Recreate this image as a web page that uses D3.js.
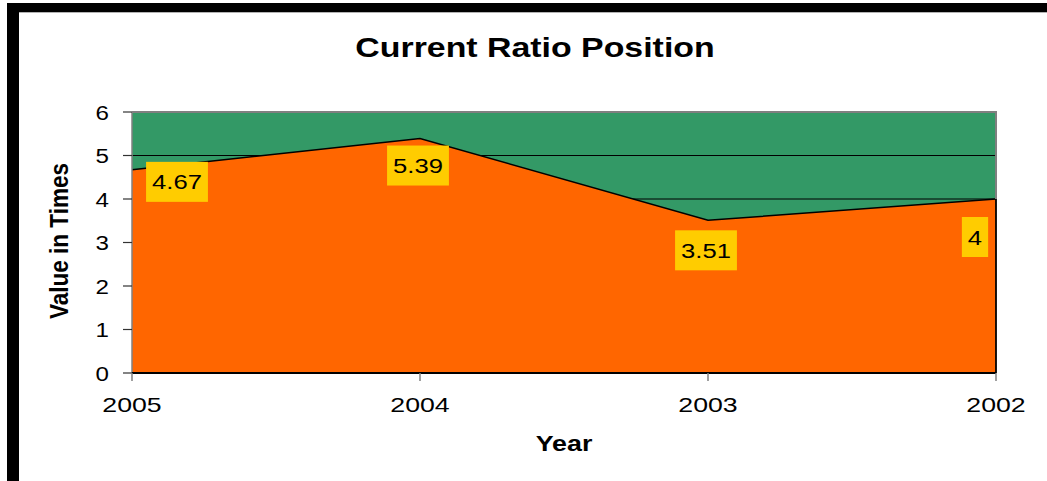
<!DOCTYPE html>
<html><head><meta charset="utf-8">
<script src="https://cdn.jsdelivr.net/npm/d3@7"></script>
<style>html,body{margin:0;padding:0;background:#fff;overflow:hidden}svg{display:block}text{font-family:"Liberation Sans",Arial,sans-serif}</style>
</head><body>
<script>
const categories = ["2005", "2004", "2003", "2002"];
const values = [4.67, 5.39, 3.51, 4];
const yTicks = [0, 1, 2, 3, 4, 5, 6];
const title = "Current Ratio Position";
const xTitle = "Year";
const yTitle = "Value in Times";
// label box offsets relative to the data point (layout config)
const labelOffsets = [[45, 12], [-2, 27], [-2, 30], [-21, 38]];

const W = 1047, H = 481;
const svg = d3.select("body").append("svg").attr("width", W).attr("height", H);

// frame
svg.append("rect").attr("x", 7).attr("y", 3).attr("width", W - 7).attr("height", 9.3).attr("fill", "#000");
svg.append("rect").attr("x", 7).attr("y", 3).attr("width", 12).attr("height", H - 3).attr("fill", "#000");

const L = 132, R = 996, T = 112, B = 373;
const x = d3.scalePoint().domain(categories).range([L, R]);
const y = d3.scaleLinear().domain([0, 6]).range([B, T]);

// plot area
svg.append("rect").attr("x", L).attr("y", T).attr("width", R - L).attr("height", B - T).attr("fill", "#339966");
// gridlines
svg.append("g").selectAll("line").data(yTicks.filter(d => d > 0 && d < 6)).join("line")
  .attr("x1", L).attr("x2", R).attr("y1", d => y(d)).attr("y2", d => y(d))
  .attr("stroke", "#000").attr("stroke-width", 1.2);

// area
const pts = categories.map((c, i) => ({c, v: values[i]}));
const area = d3.area().x(d => x(d.c)).y0(B).y1(d => y(d.v));
svg.append("path").datum(pts).attr("d", area).attr("fill", "#FF6600");
const line = d3.line().x(d => x(d.c)).y(d => y(d.v));
svg.append("path").datum(pts).attr("d", line).attr("fill", "none").attr("stroke", "#000").attr("stroke-width", 1.5);
// right edge and bottom of area
svg.append("line").attr("x1", R).attr("x2", R).attr("y1", y(values[values.length - 1])).attr("y2", B).attr("stroke", "#000").attr("stroke-width", 1.8);

// plot area border top/right grey
svg.append("path").attr("d", `M${L},${T}H${R}V${y(values[values.length - 1])}`).attr("fill", "none").attr("stroke", "#808080").attr("stroke-width", 2);

// axes
const yAxis = svg.append("g");
yAxis.append("line").attr("x1", L).attr("x2", L).attr("y1", T).attr("y2", B).attr("stroke", "#808080").attr("stroke-width", 1.5);
yAxis.selectAll("line.t").data(yTicks).join("line").attr("class", "t")
  .attr("x1", L - 9).attr("x2", L).attr("y1", d => y(d)).attr("y2", d => y(d)).attr("stroke", "#333").attr("stroke-width", 1.2);
yAxis.selectAll("text").data(yTicks).join("text")
  .attr("transform", d => `translate(109,${y(d) + 7.5}) scale(1.15,1)`)
  .attr("text-anchor", "end").attr("font-size", 21).attr("fill", "#000").text(d => d);

const xAxis = svg.append("g");
xAxis.append("line").attr("x1", L).attr("x2", R).attr("y1", B).attr("y2", B).attr("stroke", "#000").attr("stroke-width", 2);
xAxis.selectAll("line.t").data(categories).join("line").attr("class", "t")
  .attr("x1", d => x(d)).attr("x2", d => x(d)).attr("y1", B).attr("y2", B + 8).attr("stroke", "#808080").attr("stroke-width", 1.5);
xAxis.selectAll("text").data(categories).join("text")
  .attr("transform", d => `translate(${x(d)},412) scale(1.27,1)`)
  .attr("text-anchor", "middle").attr("font-size", 21).attr("fill", "#000").text(d => d);

// data labels
const lab = svg.append("g").selectAll("g").data(pts).join("g")
  .attr("transform", (d, i) => `translate(${x(d.c) + labelOffsets[i][0]},${y(d.v) + labelOffsets[i][1]})`);
lab.each(function(d) {
  const g = d3.select(this);
  const t = g.append("text").attr("text-anchor", "middle").attr("font-size", 21).attr("fill", "#000")
    .attr("transform", "translate(0,7.5) scale(1.22,1)").text(d.v);
  const w = t.node().getComputedTextLength() * 1.22 + 12;
  g.insert("rect", "text").attr("x", -w / 2).attr("y", -20).attr("width", w).attr("height", 40).attr("fill", "#FFCC00");
});

// titles
svg.append("text").attr("transform", "translate(535,56.5) scale(1.21,1)").attr("text-anchor", "middle")
  .attr("font-size", 28).attr("font-weight", "bold").text(title);
svg.append("text").attr("transform", "translate(564,451) scale(1.22,1)").attr("text-anchor", "middle")
  .attr("font-size", 22).attr("font-weight", "bold").text(xTitle);
svg.append("text").attr("transform", "translate(68,241) rotate(-90) scale(1.1,1.22)").attr("text-anchor", "middle")
  .attr("font-size", 20.5).attr("font-weight", "bold").text(yTitle);
</script>
</body></html>
